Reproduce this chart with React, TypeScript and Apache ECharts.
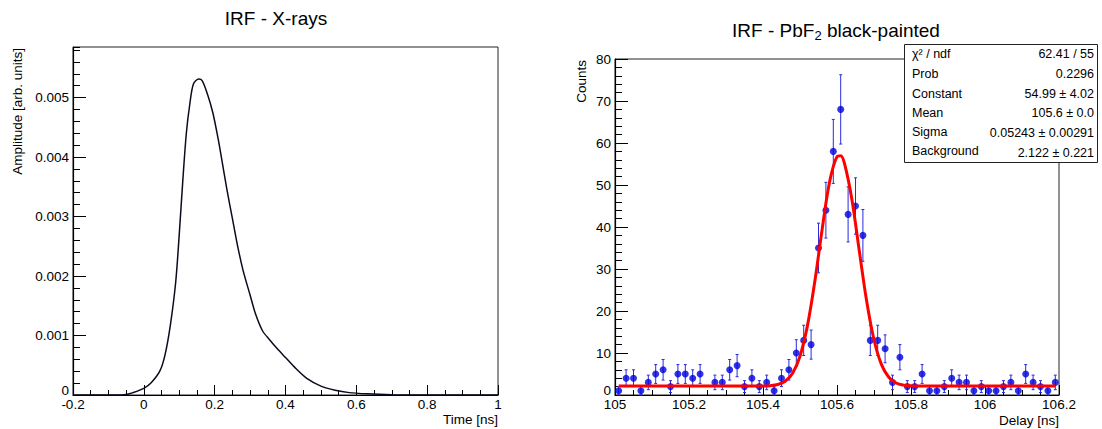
import React, { useEffect, useRef } from 'react';
import * as echarts from 'echarts';

const FONT = '"Liberation Sans", Arial, Helvetica, sans-serif';

// ---------- Left panel: IRF - X-rays ----------
const irfTime = [-0.2, -0.08, -0.05, -0.03, 0, 0.02, 0.045, 0.06, 0.075, 0.09, 0.1, 0.11, 0.12, 0.13, 0.14, 0.155, 0.165, 0.18, 0.195, 0.21, 0.22, 0.235, 0.25, 0.265, 0.28, 0.3, 0.315, 0.335, 0.355, 0.375, 0.4, 0.43, 0.46, 0.5, 0.54, 0.58, 0.63, 0.7, 0.8, 1.0];
const irfAmp = [0, 0, 0.00001, 0.00004, 0.00011, 0.0002, 0.0004, 0.00068, 0.00118, 0.0019, 0.0027, 0.0036, 0.0044, 0.0049, 0.00523, 0.00531, 0.00528, 0.00505, 0.00474, 0.0043, 0.00396, 0.00344, 0.00297, 0.0025, 0.0021, 0.00168, 0.00137, 0.00108, 0.00093, 0.00079, 0.00063, 0.00044, 0.00028, 0.00015, 0.00008, 0.00004, 0.00002, 0.000006, 0, 0];

// ---------- Right panel: IRF - PbF2 black-painted ----------
const histLow = 105;
const binWidth = 0.02;
const counts = [1, 4, 4, 1, 3, 5, 6, 2, 5, 5, 4, 5, 0, 3, 3, 6, 7, 2, 4, 2, 3, 1, 4, 6, 10, 13, 12, 35, 44, 58, 68, 43, 45, 38, 13, 13, 11, 3, 9, 2, 2, 5, 1, 1, 2, 4, 3, 3, 1, 2, 1, 1, 2, 3, 1, 5, 3, 2, 1, 3];
const fitX = [105.01, 105.2, 105.4, 105.42, 105.44, 105.46, 105.48, 105.5, 105.52, 105.54, 105.56, 105.58, 105.6, 105.61, 105.62, 105.64, 105.66, 105.68, 105.7, 105.72, 105.74, 105.76, 105.78, 105.8, 105.82, 106.0, 106.19];
const fitY = [2.12, 2.12, 2.15, 2.22, 2.49, 3.26, 5.18, 9.24, 16.45, 27.02, 39.54, 50.75, 56.75, 56.95, 55.18, 46.69, 34.48, 22.44, 13.15, 7.29, 4.22, 2.86, 2.35, 2.18, 2.13, 2.12, 2.12];

const statLabels = ['χ² / ndf', 'Prob', 'Constant', 'Mean', 'Sigma', 'Background'];
const statValues = ['62.41 / 55', '0.2296', '54.99 ± 4.02', '105.6 ± 0.0', '0.05243 ± 0.00291', '2.122 ± 0.221'];

const black = '#000';

function mainAxis(gridIndex: number, min: number, max: number, interval: number, tickLen: number, labelMargin: number, isY: boolean) {
  return {
    type: 'value', gridIndex, min, max, interval,
    position: isY ? 'left' : 'bottom',
    axisLine: { show: true, onZero: false, lineStyle: { color: black, width: 1.2 } },
    axisTick: { show: true, inside: true, length: tickLen, lineStyle: { color: black, width: 1 } },
    axisLabel: {
      show: true, color: black, fontSize: 13.5, fontFamily: FONT, margin: labelMargin,
      lineHeight: 10,
      showMaxLabel: isY && max < 1 ? false : true,
      formatter: (v: number) => {
        const r = Math.round(v * 100000) / 100000;
        if (isY && r === 0) return '{z|0}';
        return String(r);
      },
      rich: {
        z: { fontSize: 13.5, fontFamily: FONT, color: black, lineHeight: 10, padding: [0, 0, 9, 0] },
      },
    },
    splitLine: { show: false },
  };
}

function minorAxis(gridIndex: number, min: number, max: number, interval: number, tickLen: number, isY: boolean) {
  return {
    type: 'value', gridIndex, min, max, interval,
    position: isY ? 'left' : 'bottom',
    axisLine: { show: false, onZero: false },
    axisTick: { show: true, inside: true, length: tickLen, lineStyle: { color: black, width: 1 } },
    axisLabel: { show: false },
    splitLine: { show: false },
  };
}

function txt(text: string, x: number, y: number, size: number, align: string, vAlign: string, extra: any = {}) {
  return {
    type: 'text', x, y, z: 200,
    ...extra,
    style: {
      text, fill: black, fontSize: size, fontFamily: FONT,
      align, verticalAlign: vAlign, textAlign: align, textVerticalAlign: vAlign,
    },
  };
}

export default function App() {
  const ref = useRef<HTMLDivElement>(null);
  useEffect(() => {
    const chart = echarts.init(ref.current!, null, { renderer: 'svg' });

    const histData = counts
      .map((c, i) => [histLow + (i + 0.5) * binWidth, c, Math.sqrt(c)])
      .filter((d) => d[1] > 0);

    const statRowY = [54, 74, 93.5, 113, 132, 151];
    const statValY = [54, 74, 93.5, 113, 132.5, 153];

    const graphics: any[] = [
      txt('IRF - X-rays', 276, 18, 19, 'center', 'middle'),
      {
        type: 'text', x: 836, y: 30, z: 200,
        style: {
          text: '{m|IRF - PbF}{s|2}{m| black-painted}',
          align: 'center', verticalAlign: 'middle', textAlign: 'center', textVerticalAlign: 'middle',
          fill: black, fontFamily: FONT, fontSize: 19,
          rich: {
            m: { fontSize: 19, fontFamily: FONT, fill: black },
            s: { fontSize: 13, fontFamily: FONT, fill: black, padding: [10, 0, 0, 0] },
          },
        },
      },
      txt('Amplitude [arb. units]', 17.5, 48, 13.5, 'right', 'middle', { rotation: Math.PI / 2 }),
      txt('Counts', 581, 60, 13.5, 'right', 'middle', { rotation: Math.PI / 2 }),
      txt('Time [ns]', 498, 419, 13.5, 'right', 'middle'),
      txt('Delay [ns]', 1059, 420, 13.5, 'right', 'middle'),
      {
        type: 'rect', z: 150,
        shape: { x: 904.5, y: 44.5, width: 193, height: 118 },
        style: { fill: '#fff', stroke: '#222', lineWidth: 1 },
      },
      ...statLabels.map((l, i) => txt(l, 912, statRowY[i], 12.5, 'left', 'middle')),
      ...statValues.map((v, i) => txt(v, 1094, statValY[i], 12.5, 'right', 'middle')),
    ];

    const option: any = {
      animation: false,
      backgroundColor: '#fff',
      grid: [
        { left: 73, top: 47, width: 425, height: 348, show: true, borderColor: '#222', borderWidth: 1, backgroundColor: 'transparent' },
        { left: 615, top: 59, width: 444, height: 336, show: true, borderColor: '#222', borderWidth: 1, backgroundColor: 'transparent' },
      ],
      xAxis: [
        mainAxis(0, -0.2, 1, 0.2, 10, 4, false),
        mainAxis(1, 105, 106.2, 0.2, 10, 4, false),
        minorAxis(0, -0.2, 1, 0.05, 5, false),
        minorAxis(1, 105, 106.2, 0.05, 5, false),
      ],
      yAxis: [
        mainAxis(0, 0, 0.00585, 0.001, 13, 4, true),
        mainAxis(1, 0, 80, 10, 13, 4, true),
        minorAxis(0, 0, 0.00585, 0.0002, 7, true),
        minorAxis(1, 0, 80, 2, 7, true),
      ],
      series: [
        {
          type: 'line', xAxisIndex: 0, yAxisIndex: 0,
          data: irfTime.map((t, i) => [t, irfAmp[i]]),
          showSymbol: false, smooth: 0.3,
          lineStyle: { color: '#0b0b1e', width: 1.5 },
          z: 5,
        },
        {
          type: 'custom', xAxisIndex: 1, yAxisIndex: 1,
          data: histData,
          encode: { x: 0, y: 1 },
          renderItem: (params: any, api: any) => {
            const x = api.value(0);
            const y = api.value(1);
            const e = api.value(2);
            const top = api.coord([x, y + e]);
            const bot = api.coord([x, y - e]);
            const st = { stroke: '#2b2bdc', lineWidth: 1 };
            return {
              type: 'group',
              children: [
                { type: 'line', shape: { x1: top[0], y1: top[1], x2: bot[0], y2: bot[1] }, style: st },
                { type: 'line', shape: { x1: top[0] - 1.5, y1: top[1], x2: top[0] + 1.5, y2: top[1] }, style: st },
                { type: 'line', shape: { x1: bot[0] - 1.5, y1: bot[1], x2: bot[0] + 1.5, y2: bot[1] }, style: st },
              ],
            };
          },
          z: 5,
        },
        {
          type: 'scatter', xAxisIndex: 1, yAxisIndex: 1,
          data: histData.map((d) => [d[0], d[1]]),
          symbol: 'circle', symbolSize: 7,
          itemStyle: { color: '#0000e0' },
          z: 6,
        },
        {
          type: 'line', xAxisIndex: 1, yAxisIndex: 1,
          data: fitX.map((x, i) => [x, fitY[i]]),
          showSymbol: false, smooth: 0.35,
          lineStyle: { color: '#ff0000', width: 3 },
          z: 7,
        },
      ],
      graphic: graphics,
    };

    chart.setOption(option);
    return () => chart.dispose();
  }, []);

  return (
    <div
      ref={ref}
      style={{ position: 'absolute', left: 0, top: 0, width: 1102, height: 429, background: '#fff' }}
    />
  );
}
